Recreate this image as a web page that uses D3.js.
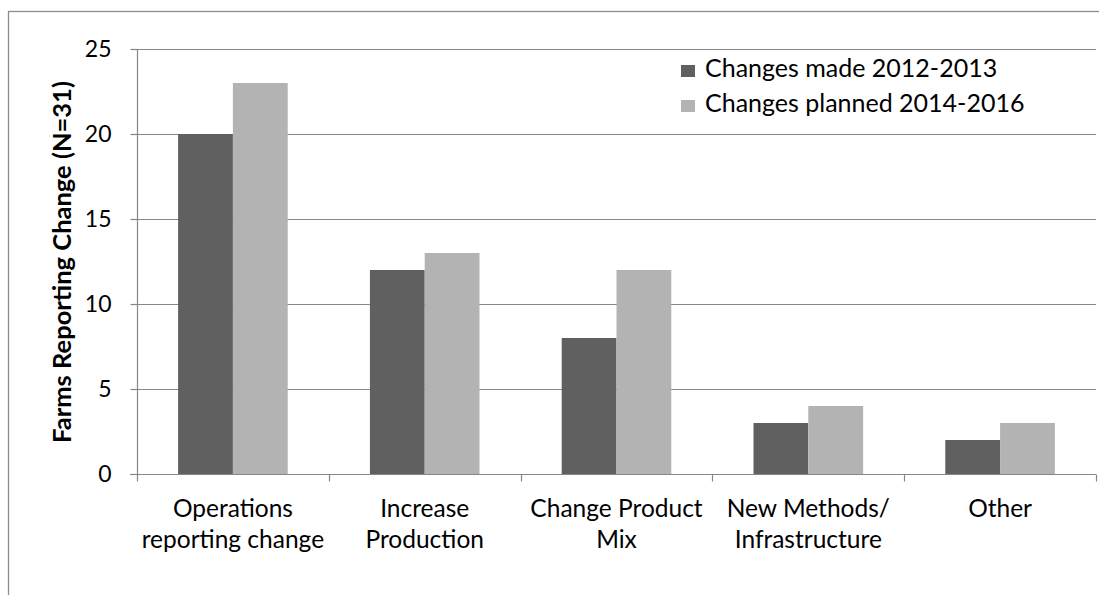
<!DOCTYPE html>
<html>
<head>
<meta charset="utf-8">
<script src="https://cdn.jsdelivr.net/npm/d3@7"></script>
<style>
  html, body { margin: 0; padding: 0; background: #fff; }
  svg { display: block; font-family: Lato, "Open Sans", sans-serif; }
</style>
</head>
<body>
<svg id="chart" width="1099" height="595"></svg>
<script>
// Survey results: farms reporting each kind of change
const categories = [
  ["Operations", "reporting change"],
  ["Increase", "Production"],
  ["Change Product", "Mix"],
  ["New Methods/", "Infrastructure"],
  ["Other"]
];
const seriesNames = ["Changes made 2012-2013", "Changes planned 2014-2016"];
const changesMade = [20, 12, 8, 3, 2];
const changesPlanned = [23, 13, 12, 4, 3];
const yTicks = [0, 5, 10, 15, 20, 25];
const yTitle = "Farms Reporting Change (N=31)";

const colors = ["#606060", "#b3b3b3"];
const svg = d3.select("#chart");
const W = 1099, H = 595;
const plot = { left: 137, right: 1096, top: 49, bottom: 474 };

// Outer chart frame
svg.append("rect")
  .attr("x", 8.5).attr("y", 11.5)
  .attr("width", W + 20).attr("height", H + 20)
  .attr("fill", "none").attr("stroke", "#8c8c8c").attr("stroke-width", 1.3);

const idx = d3.range(categories.length);
const x0 = d3.scaleBand().domain(idx).range([plot.left, plot.right]).paddingInner(0).paddingOuter(0);
// Two bars per group, group fills 2/3.5 of the slot
const barW = x0.bandwidth() / 3.5;
const x1 = d3.scaleBand().domain([0, 1]).range([0, 2 * barW]).padding(0);
const y = d3.scaleLinear().domain([0, 25]).range([plot.bottom, plot.top]);

// Horizontal gridlines
svg.append("g").selectAll("line").data(yTicks.filter(t => t > 0)).join("line")
  .attr("x1", plot.left).attr("x2", plot.right)
  .attr("y1", d => Math.round(y(d)) + 0.5).attr("y2", d => Math.round(y(d)) + 0.5)
  .attr("stroke", "#878787").attr("stroke-width", 1.2);

// Bars
const groups = svg.append("g").selectAll("g").data(idx).join("g")
  .attr("transform", i => `translate(${x0(i) + (x0.bandwidth() - 2 * barW) / 2},0)`);
groups.selectAll("rect")
  .data(i => [changesMade[i], changesPlanned[i]].map((v, s) => ({ v, s })))
  .join("rect")
  .attr("x", d => x1(d.s))
  .attr("width", x1.bandwidth())
  .attr("y", d => y(d.v))
  .attr("height", d => y(0) - y(d.v))
  .attr("fill", d => colors[d.s]);

// Y axis
const yAxis = d3.axisLeft(y).tickValues(yTicks).tickSize(7).tickPadding(19);
const gy = svg.append("g").attr("transform", `translate(${plot.left + 0.5},0)`).call(yAxis);
gy.select(".domain").attr("stroke", "#878787").attr("stroke-width", 1.2)
  .attr("d", `M0,${plot.top}V${plot.bottom}`);
gy.selectAll(".tick line").attr("stroke", "#878787").attr("stroke-width", 1.2);
gy.selectAll(".tick text").attr("font-size", 23).attr("fill", "#000")
  .attr("font-family", "Lato, sans-serif");

// X axis with ticks at category boundaries
const xb = d3.scaleLinear().domain([0, categories.length]).range([plot.left, plot.right]);
const gx = svg.append("g").attr("transform", `translate(0,${plot.bottom + 0.5})`);
gx.append("line").attr("x1", plot.left - 7).attr("x2", plot.right)
  .attr("stroke", "#878787").attr("stroke-width", 1.2);
gx.selectAll("line.tk").data(d3.range(categories.length + 1)).join("line")
  .attr("class", "tk")
  .attr("x1", d => Math.round(xb(d)) + 0.5).attr("x2", d => Math.round(xb(d)) + 0.5)
  .attr("y1", 0).attr("y2", 7)
  .attr("stroke", "#878787").attr("stroke-width", 1.2);

// Category labels
const labels = svg.append("g").selectAll("text").data(idx).join("text")
  .attr("text-anchor", "middle")
  .attr("font-size", 24.5)
  .attr("fill", "#000");
labels.selectAll("tspan").data(i => categories[i].map(t => ({ t, i }))).join("tspan")
  .attr("x", d => x0(d.i) + x0.bandwidth() / 2)
  .attr("y", (d, k) => 517 + k * 31)
  .text(d => d.t);

// Y axis title
svg.append("text")
  .attr("transform", "translate(71,262) rotate(-90)")
  .attr("text-anchor", "middle")
  .attr("font-size", 25.5).attr("font-weight", "bold").attr("fill", "#000")
  .text(yTitle);

// Legend
const lg = svg.append("g").attr("transform", "translate(681,77)");
seriesNames.forEach((name, s) => {
  lg.append("rect").attr("x", 0).attr("y", s * 35 - 12).attr("width", 14).attr("height", 12)
    .attr("fill", colors[s]);
  lg.append("text").attr("x", 24).attr("y", s * 35)
    .attr("font-size", 25).attr("fill", "#000").text(name);
});
</script>
</body>
</html>
